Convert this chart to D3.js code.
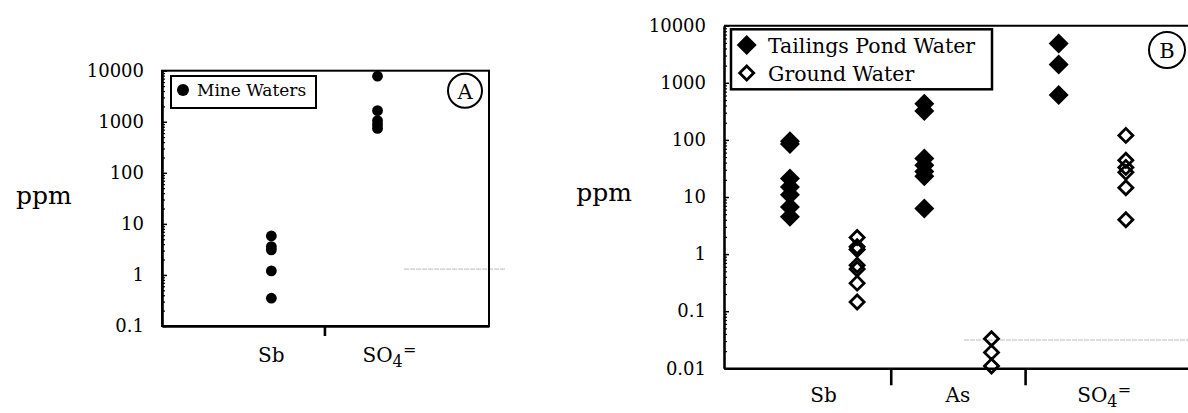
<!DOCTYPE html>
<html>
<head>
<meta charset="utf-8">
<script src="https://cdn.jsdelivr.net/npm/d3@7"></script>
<style>
body{margin:0;background:#fff}
svg{display:block;font-family:"DejaVu Serif",serif}
</style>
</head>
<body>
<svg id="chart" width="1188" height="413"></svg>
<script>
// panel A - mine waters
const catsA = ["Sb", "SO4="]
const mineSb = [5.8, 3.6, 3.1, 1.2, 0.35]
const mineSO4 = [7800, 1650, 1050, 880, 740]
const ticksA = [0.1, 1, 10, 100, 1000, 10000]

// panel B - tailings pond vs ground water
const catsB = ["Sb", "As", "SO4="]
const pondSb = [95, 85, 21, 15, 11, 6.7, 4.5]
const groundSb = [1.95, 1.35, 1.2, 0.64, 0.55, 0.31, 0.145]
const pondAs = [430, 320, 47, 36, 28, 23, 6.3]
const groundAs = [0.033, 0.019, 0.011]
const pondSO4 = [4900, 2100, 610]
const groundSO4 = [120, 44, 33, 27, 14.5, 4]
const ticksB = [0.01, 0.1, 1, 10, 100, 1000, 10000]

const svg = d3.select("#chart")

const fmt = d3.format("~g")
const minors = ticks => ticks.slice(0, -1).flatMap(d => d3.range(2, 10).map(k => d * k))

// filled / open diamonds (square turned 45deg)
const diamondBig = d3.symbol(d3.symbolSquare, 200)()
const diamondOpen = d3.symbol(d3.symbolSquare, 98)()

function leftAxis(y, ticks, x0) {
  svg.append("g").attr("transform", `translate(${x0},0)`)
    .call(d3.axisLeft(y).tickValues(minors(ticks)).tickFormat("").tickSizeInner(-3).tickSizeOuter(0))
    .call(g => g.select(".domain").remove())
    .selectAll("line").attr("stroke-width", 1.2)
  svg.append("g").attr("transform", `translate(${x0},0)`)
    .call(d3.axisLeft(y).tickValues(ticks).tickFormat(fmt).tickSizeInner(-5).tickSizeOuter(0).tickPadding(18))
    .attr("font-family", "DejaVu Serif").attr("font-size", 18)
    .call(g => g.select(".domain").attr("stroke-width", 2.6))
    .call(g => g.selectAll("line").attr("stroke-width", 1.5))
}

function catLabel(x, y, name, size) {
  if (name !== "SO4=") {
    svg.append("text").attr("x", x).attr("y", y).attr("text-anchor", "middle")
      .attr("font-size", size).text(name)
    return
  }
  const t = svg.append("text").attr("x", x).attr("y", y).attr("text-anchor", "middle")
    .attr("font-size", size).text("SO")
  const w = t.node().getComputedTextLength()
  svg.append("text").attr("x", x + w / 2).attr("y", y + 5).attr("font-size", size * 0.8).text("4")
  svg.append("text").attr("x", x + w / 2 + 10.5).attr("y", y - 7).attr("font-size", size * 0.8).text("=")
}

// ---------- panel A ----------
const xA = d3.scaleLinear().domain([-1.03, 2.05]).range([162, 489])
const yA = d3.scaleLog().domain([0.1, 10000]).range([326, 70.7])

// faint scan line
svg.append("line").attr("x1", xA(1.25)).attr("x2", xA(2.2)).attr("y1", yA(1.3)).attr("y2", yA(1.3))
  .attr("stroke", "#aaa").attr("stroke-width", 0.8).attr("stroke-dasharray", "5,1")

svg.append("rect").attr("x", xA(-1.03)).attr("y", yA(10000))
  .attr("width", xA(2.05) - xA(-1.03)).attr("height", yA(0.1) - yA(10000))
  .attr("fill", "none").attr("stroke", "#000").attr("stroke-width", 2)

svg.append("g").attr("transform", `translate(0,${yA(0.1)})`)
  .call(d3.axisBottom(xA).tickValues([0.5]).tickFormat("").tickSizeInner(10).tickSizeOuter(0))
  .call(g => g.select(".domain").attr("stroke-width", 2.6))
  .selectAll("line").attr("stroke-width", 2.6)

leftAxis(yA, ticksA, xA(-1.03))

const ptsA = [mineSb, mineSO4].flatMap((vals, i) => vals.map(v => ({i, v})))
svg.append("g").selectAll("circle").data(ptsA).join("circle")
  .attr("cx", d => xA(d.i)).attr("cy", d => yA(d.v)).attr("r", 5.4).attr("fill", "#000")

catsA.forEach((c, i) => catLabel(xA(i), 362, c, 20))

svg.append("text").attr("x", 16).attr("y", 204).attr("font-size", 25).text("ppm")

// legend A
svg.append("rect").attr("x", 171).attr("y", 76).attr("width", 145).attr("height", 32)
  .attr("fill", "#fff").attr("stroke", "#000").attr("stroke-width", 2)
svg.append("circle").attr("cx", 183).attr("cy", 90).attr("r", 6).attr("fill", "#000")
svg.append("text").attr("x", 197).attr("y", 96).attr("font-size", 17).text("Mine Waters")

svg.append("circle").attr("cx", 465).attr("cy", 90.7).attr("r", 17)
  .attr("fill", "none").attr("stroke", "#000").attr("stroke-width", 2)
svg.append("text").attr("x", 465).attr("y", 98.5).attr("text-anchor", "middle").attr("font-size", 21).text("A")

// ---------- panel B ----------
const xB = d3.scaleLinear().domain([-0.982, 5.94]).range([724, 1189])
const yB = d3.scaleLog().domain([0.01, 10000]).range([368.3, 25.7])

svg.append("line").attr("x1", xB(2.59)).attr("x2", xB(5.94)).attr("y1", yB(0.0313)).attr("y2", yB(0.0313))
  .attr("stroke", "#aaa").attr("stroke-width", 0.8).attr("stroke-dasharray", "5,1")

svg.append("line").attr("x1", xB(-0.982)).attr("x2", xB(5.94)).attr("y1", yB(10000)).attr("y2", yB(10000))
  .attr("stroke", "#000").attr("stroke-width", 2)

svg.append("g").attr("transform", `translate(0,${yB(0.01)})`)
  .call(d3.axisBottom(xB).tickValues([1.5, 3.5]).tickFormat("").tickSizeInner(17).tickSizeOuter(0))
  .call(g => g.select(".domain").attr("stroke-width", 2.6))
  .selectAll("line").attr("stroke-width", 2.6)

leftAxis(yB, ticksB, xB(-0.982))

const pond = [pondSb, pondAs, pondSO4]
const ground = [groundSb, groundAs, groundSO4]
const ptsPond = pond.flatMap((vals, c) => vals.map(v => ({x: 2 * c, v})))
const ptsGround = ground.flatMap((vals, c) => vals.map(v => ({x: 2 * c + 1, v})))

svg.append("g").selectAll("path").data(ptsPond).join("path")
  .attr("d", diamondBig)
  .attr("transform", d => `translate(${xB(d.x)},${yB(d.v)}) rotate(45)`)
  .attr("fill", "#000")

svg.append("g").selectAll("path").data(ptsGround).join("path")
  .attr("d", diamondOpen)
  .attr("transform", d => `translate(${xB(d.x)},${yB(d.v)}) rotate(45)`)
  .attr("fill", "none").attr("stroke", "#000").attr("stroke-width", 2.8)

catsB.forEach((c, i) => catLabel(xB(2 * i + 0.5), 402, c, 20))

svg.append("text").attr("x", 632).attr("y", 201).attr("text-anchor", "end").attr("font-size", 25).text("ppm")

// legend B
svg.append("rect").attr("x", 731).attr("y", 29.3).attr("width", 261).attr("height", 60)
  .attr("fill", "#fff").attr("stroke", "#000").attr("stroke-width", 2.5)
svg.append("path").attr("d", diamondBig).attr("transform", "translate(746.7,45) rotate(45)").attr("fill", "#000")
svg.append("path").attr("d", diamondOpen).attr("transform", "translate(746.7,73) rotate(45)")
  .attr("fill", "none").attr("stroke", "#000").attr("stroke-width", 2.8)
svg.append("text").attr("x", 768).attr("y", 52.5).attr("font-size", 20.5).text("Tailings Pond Water")
svg.append("text").attr("x", 768).attr("y", 80.5).attr("font-size", 20.5).text("Ground Water")

svg.append("circle").attr("cx", 1167).attr("cy", 50).attr("r", 18)
  .attr("fill", "none").attr("stroke", "#000").attr("stroke-width", 2)
svg.append("text").attr("x", 1167).attr("y", 58).attr("text-anchor", "middle").attr("font-size", 21).text("B")
</script>
</body>
</html>
